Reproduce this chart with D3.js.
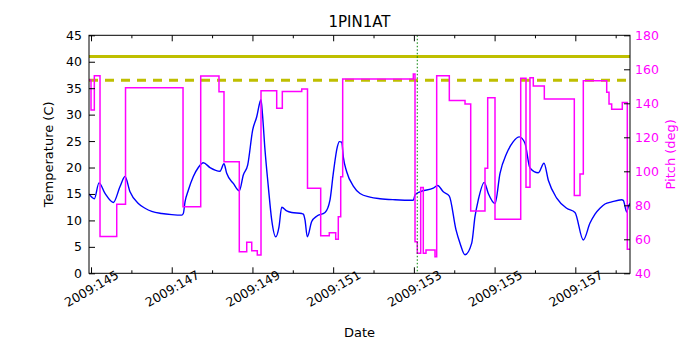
<!DOCTYPE html>
<html>
<head>
<meta charset="utf-8">
<script src="https://cdn.jsdelivr.net/npm/d3@7"></script>
<style>
    body { margin: 0; background: #fff; }
    #chart { width: 700px; height: 350px; }
    text { font-family: "DejaVu Sans", sans-serif; }
</style>
</head>
<body>
<div id="chart"></div>
<script>
// day of year 2009 (fractional) and temperature in C
const tempDays = [144.950, 145.082, 145.198, 145.347, 145.553, 145.719, 145.842, 145.966, 146.172, 146.338,
    146.504, 146.752, 147.000, 147.247, 147.287, 147.329, 147.411, 147.535, 147.659, 147.782,
    147.948, 148.196, 148.295, 148.362, 148.526, 148.674, 148.774, 148.883, 149.006, 149.106,
    149.187, 149.212, 149.249, 149.311, 149.393, 149.477, 149.576, 149.658, 149.725, 149.849,
    149.973, 150.221, 150.260, 150.302, 150.359, 150.468, 150.592, 150.798, 150.922, 151.003,
    151.103, 151.152, 151.212, 151.251, 151.335, 151.499, 151.665, 151.913, 152.161, 152.532,
    152.986, 153.028, 153.152, 153.481, 153.590, 153.729, 153.878, 154.044, 154.143, 154.267,
    154.433, 154.514, 154.596, 154.745, 154.844, 155.010, 155.134, 155.300, 155.463, 155.612,
    155.753, 155.877, 156.083, 156.224, 156.331, 156.539, 156.786, 156.992, 157.198, 157.364,
    157.488, 157.611, 157.735, 157.901, 158.149, 158.189, 158.273, 158.313, 158.355];
const tempValues = [15.0, 14.1, 17.1, 15.1, 13.4, 16.4, 18.3, 15.4, 13.2, 12.3,
    11.7, 11.3, 11.1, 11.0, 11.3, 13.5, 15.7, 18.3, 20.0, 20.9,
    20.0, 19.3, 20.7, 18.9, 17.0, 15.6, 18.6, 20.5, 27.1, 29.6,
    32.4, 32.8, 30.0, 23.3, 16.4, 10.1, 6.9, 8.8, 12.5, 11.8,
    11.5, 11.3, 11.2, 10.1, 6.9, 9.8, 10.8, 11.5, 13.9, 18.9,
    23.9, 24.9, 24.8, 22.0, 19.2, 16.5, 15.1, 14.4, 14.1, 13.9,
    13.8, 14.8, 15.4, 16.1, 16.6, 15.4, 14.6, 8.2, 5.7, 3.5,
    5.7, 10.7, 13.9, 17.2, 15.1, 13.2, 18.9, 22.7, 24.9, 25.8,
    24.6, 19.9, 19.0, 20.8, 17.6, 14.2, 12.3, 11.5, 6.3, 9.5,
    11.2, 12.3, 13.1, 13.5, 13.9, 13.8, 11.6, 12.6, 13.2];

// pitch in deg, each value holds until the next day in the list
const pitchDays = [144.950, 145.000, 145.082, 145.223, 145.637, 145.855, 147.280, 147.718, 148.171, 148.295,
    148.674, 148.858, 148.982, 149.120, 149.212, 149.601, 149.740, 150.221, 150.364, 150.691,
    150.904, 151.063, 151.127, 151.187, 151.236, 152.986, 153.028, 153.085, 153.169, 153.233,
    153.300, 153.523, 153.565, 153.878, 154.267, 154.408, 154.762, 154.829, 155.010, 155.647,
    155.778, 155.877, 155.959, 156.232, 156.975, 157.116, 157.198, 157.778, 157.835, 157.901,
    158.164, 158.288, 158.355];
const pitchValues = [153.7, 136.1, 156.2, 61.6, 80.6, 149.2, 79.2, 156.1, 146.8, 105.6,
    52.7, 58.2, 53.3, 50.8, 147.4, 137.1, 146.9, 148.4, 90.0, 62.1,
    63.9, 60.0, 73.3, 96.8, 154.3, 157.2, 58.6, 51.8, 90.4, 51.8,
    53.7, 49.8, 156.2, 141.6, 139.6, 76.7, 101.8, 143.3, 71.8, 154.7,
    90.6, 155.1, 150.2, 142.5, 85.7, 98.4, 153.3, 146.5, 139.6, 136.5,
    140.4, 54.1, 54.1];

const tempLimits = [41, 36.5];
const markerDay = 153.084;

const xMajorDays = [145, 147, 149, 151, 153, 155, 157];
const xMinorDays = [146, 148, 150, 152, 154, 156, 158];
const xTickLabels = ["2009:145", "2009:147", "2009:149", "2009:151", "2009:153", "2009:155", "2009:157"];
const tempTicks = [0, 5, 10, 15, 20, 25, 30, 35, 40, 45];
const pitchTicks = [40, 60, 80, 100, 120, 140, 160, 180];

class DualAxisChart {
    constructor(parentElement) {
        this.parentElement = parentElement;
        this.tempColor  = "#0000ff";
        this.pitchColor = "#ff00ff";
        this.limitColor = "#bfbf00";
        this.markColor  = "#008000";
        this.initVis();
    }

    initVis() {
        let vis = this;

        vis.margin = {top: 35.3, right: 70, bottom: 76.7, left: 89};
        vis.width  = 700 - vis.margin.left - vis.margin.right;
        vis.height = 350 - vis.margin.top - vis.margin.bottom;

        vis.svg = d3.select("#" + vis.parentElement).append("svg")
            .attr("width", 700)
            .attr("height", 350);

        vis.g = vis.svg.append("g")
            .attr("transform", `translate(${vis.margin.left},${vis.margin.top})`);

        vis.x = d3.scaleLinear().domain([144.95, 158.355]).range([0, vis.width]);
        vis.yTemp  = d3.scaleLinear().domain([0, 45]).range([vis.height, 0]);
        vis.yPitch = d3.scaleLinear().domain([40, 180]).range([vis.height, 0]);

        vis.svg.append("defs").append("clipPath").attr("id", "plot-clip")
            .append("rect").attr("width", vis.width).attr("height", vis.height);

        vis.tempData  = tempDays.map((d, i) => ({day: d, value: tempValues[i]}));
        vis.pitchData = pitchDays.map((d, i) => ({day: d, value: pitchValues[i]}));

        vis.updateVis();
    }

    updateVis() {
        let vis = this;
        let plot = vis.g.append("g").attr("clip-path", "url(#plot-clip)");

        // temperature
        let tempLine = d3.line()
            .x(d => vis.x(d.day))
            .y(d => vis.yTemp(d.value))
            .curve(d3.curveMonotoneX);

        plot.append("path")
            .datum(vis.tempData)
            .attr("d", tempLine)
            .attr("fill", "none")
            .attr("stroke", vis.tempColor)
            .attr("stroke-width", 1.4);

        // limit lines
        plot.selectAll(".limit")
            .data(tempLimits)
            .enter()
            .append("line")
            .attr("class", "limit")
            .attr("x1", 0)
            .attr("x2", vis.width)
            .attr("y1", d => vis.yTemp(d))
            .attr("y2", d => vis.yTemp(d))
            .attr("stroke", vis.limitColor)
            .attr("stroke-width", 3)
            .attr("stroke-dasharray", (d, i) => i === 0 ? null : "9,7");

        // pitch
        let pitchLine = d3.line()
            .x(d => vis.x(d.day))
            .y(d => vis.yPitch(d.value))
            .curve(d3.curveStepAfter);

        plot.append("path")
            .datum(vis.pitchData)
            .attr("d", pitchLine)
            .attr("fill", "none")
            .attr("stroke", vis.pitchColor)
            .attr("stroke-width", 1.5);

        // marker
        plot.append("line")
            .attr("x1", vis.x(markerDay))
            .attr("x2", vis.x(markerDay))
            .attr("y1", 0)
            .attr("y2", vis.height)
            .attr("stroke", vis.markColor)
            .attr("stroke-width", 1)
            .attr("stroke-dasharray", "1.5,2");

        // axes
        let leftAxis = d3.axisLeft(vis.yTemp)
            .tickValues(tempTicks).tickSizeInner(-6).tickSizeOuter(0).tickPadding(7);
        let rightAxis = d3.axisRight(vis.yPitch)
            .tickValues(pitchTicks).tickSizeInner(-6).tickSizeOuter(0).tickPadding(5);

        let gl = vis.g.append("g").call(leftAxis);
        let gr = vis.g.append("g").attr("transform", `translate(${vis.width},0)`).call(rightAxis);
        gr.selectAll("text").attr("fill", vis.pitchColor);

        let bottomMajor = vis.g.append("g").attr("transform", `translate(0,${vis.height})`)
            .call(d3.axisBottom(vis.x).tickValues(xMajorDays).tickSizeInner(-6).tickSizeOuter(0)
                .tickFormat((d, i) => xTickLabels[i]));
        bottomMajor.selectAll("text")
            .attr("y", null)
            .attr("dy", null)
            .attr("dominant-baseline", "central")
            .attr("text-anchor", "middle")
            .attr("transform", "translate(0,15.2) rotate(-30)");

        vis.g.append("g").attr("transform", `translate(0,${vis.height})`)
            .call(d3.axisBottom(vis.x).tickValues(xMinorDays).tickSizeInner(-3).tickSizeOuter(0).tickFormat(""));
        vis.g.append("g")
            .call(d3.axisTop(vis.x).tickValues(xMajorDays).tickSizeInner(-6).tickSizeOuter(0).tickFormat(""));
        vis.g.append("g")
            .call(d3.axisTop(vis.x).tickValues(xMinorDays).tickSizeInner(-3).tickSizeOuter(0).tickFormat(""));

        vis.g.selectAll(".domain").remove();
        vis.g.selectAll(".tick text").attr("font-size", 12.5).attr("font-family", "DejaVu Sans, sans-serif");
        vis.g.selectAll(".tick line").attr("stroke", "#000");

        // frame
        vis.g.append("rect")
            .attr("width", vis.width)
            .attr("height", vis.height)
            .attr("fill", "none")
            .attr("stroke", "#000")
            .attr("stroke-width", 1);

        // labels
        vis.svg.append("text")
            .attr("x", vis.margin.left + vis.width / 2)
            .attr("y", 27)
            .attr("text-anchor", "middle")
            .attr("font-size", 15)
            .text("1PIN1AT");

        vis.svg.append("text")
            .attr("x", vis.margin.left + vis.width / 2)
            .attr("y", 337)
            .attr("text-anchor", "middle")
            .attr("font-size", 13)
            .text("Date");

        vis.svg.append("text")
            .attr("transform", `translate(53,${vis.margin.top + vis.height / 2}) rotate(-90)`)
            .attr("text-anchor", "middle")
            .attr("font-size", 13)
            .text("Temperature (C)");

        vis.svg.append("text")
            .attr("transform", `translate(675,${vis.margin.top + vis.height / 2}) rotate(-90)`)
            .attr("text-anchor", "middle")
            .attr("font-size", 13)
            .attr("fill", vis.pitchColor)
            .text("Pitch (deg)");
    }
}

new DualAxisChart("chart");
</script>
</body>
</html>
